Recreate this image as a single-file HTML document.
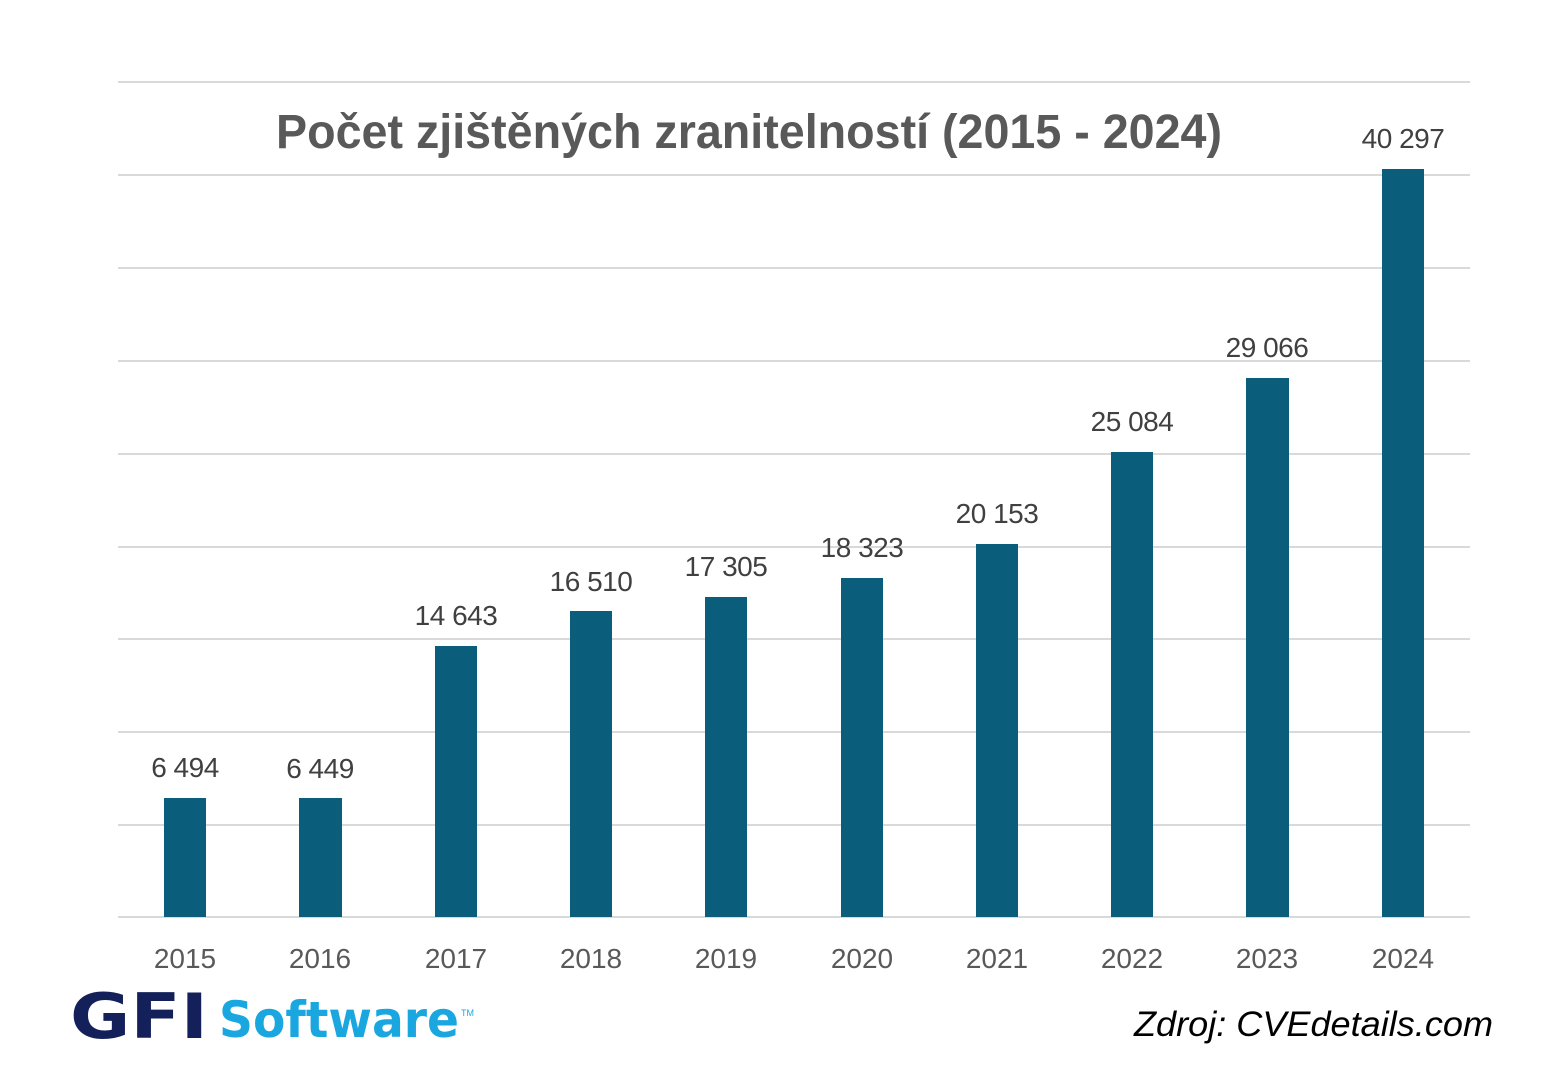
<!DOCTYPE html>
<html><head><meta charset="utf-8"><style>
html,body{margin:0;padding:0;background:#fff;}
svg{display:block;}
</style></head><body>
<svg width="1568" height="1078" viewBox="0 0 1568 1078" xmlns="http://www.w3.org/2000/svg">
<rect width="1568" height="1078" fill="#fff"/>
<g stroke="#d9d9d9" stroke-width="2">
<line x1="118" y1="82" x2="1470" y2="82"/>
<line x1="118" y1="175" x2="1470" y2="175"/>
<line x1="118" y1="268" x2="1470" y2="268"/>
<line x1="118" y1="361" x2="1470" y2="361"/>
<line x1="118" y1="454" x2="1470" y2="454"/>
<line x1="118" y1="547" x2="1470" y2="547"/>
<line x1="118" y1="639" x2="1470" y2="639"/>
<line x1="118" y1="732" x2="1470" y2="732"/>
<line x1="118" y1="825" x2="1470" y2="825"/>
<line x1="118" y1="917" x2="1470" y2="917"/>
</g>
<text x="276" y="148" font-family="Liberation Sans, sans-serif" font-weight="bold" font-size="48" fill="#595959" textLength="946" lengthAdjust="spacingAndGlyphs">Počet zjištěných zranitelností (2015 - 2024)</text>
<g fill="#0a5e7c">
<rect x="164" y="798" width="42" height="119"/>
<rect x="299" y="798" width="43" height="119"/>
<rect x="435" y="646" width="42" height="271"/>
<rect x="570" y="611" width="42" height="306"/>
<rect x="705" y="597" width="42" height="320"/>
<rect x="841" y="578" width="42" height="339"/>
<rect x="976" y="544" width="42" height="373"/>
<rect x="1111" y="452" width="42" height="465"/>
<rect x="1246" y="378" width="43" height="539"/>
<rect x="1382" y="169" width="42" height="748"/>
</g>
<g font-family="Liberation Sans, sans-serif" font-size="28" fill="#404040" text-anchor="middle" letter-spacing="-0.5">
<text x="185" y="777">6 494</text>
<text x="320" y="778">6 449</text>
<text x="456" y="625">14 643</text>
<text x="591" y="591">16 510</text>
<text x="726" y="576">17 305</text>
<text x="862" y="557">18 323</text>
<text x="997" y="523">20 153</text>
<text x="1132" y="431">25 084</text>
<text x="1267" y="357">29 066</text>
<text x="1403" y="148">40 297</text>
</g>
<g font-family="Liberation Sans, sans-serif" font-size="28" fill="#595959" text-anchor="middle">
<text x="185" y="968">2015</text>
<text x="320" y="968">2016</text>
<text x="456" y="968">2017</text>
<text x="591" y="968">2018</text>
<text x="726" y="968">2019</text>
<text x="862" y="968">2020</text>
<text x="997" y="968">2021</text>
<text x="1132" y="968">2022</text>
<text x="1267" y="968">2023</text>
<text x="1403" y="968">2024</text>
</g>
<text x="70" y="1038" font-family="DejaVu Sans, sans-serif" font-weight="bold" font-size="62" fill="#14205a" textLength="138" lengthAdjust="spacingAndGlyphs">GFI</text>
<text x="219" y="1037" font-family="DejaVu Sans, sans-serif" font-weight="bold" font-size="50" fill="#1aa7e0" textLength="240" lengthAdjust="spacingAndGlyphs">Software</text>
<text x="461" y="1016" font-family="Liberation Sans, sans-serif" font-size="9" fill="#1aa7e0">TM</text>
<text x="1134" y="1036" font-family="Liberation Sans, sans-serif" font-style="italic" font-size="35" fill="#000" textLength="359" lengthAdjust="spacingAndGlyphs">Zdroj: CVEdetails.com</text>
</svg>
</body></html>
